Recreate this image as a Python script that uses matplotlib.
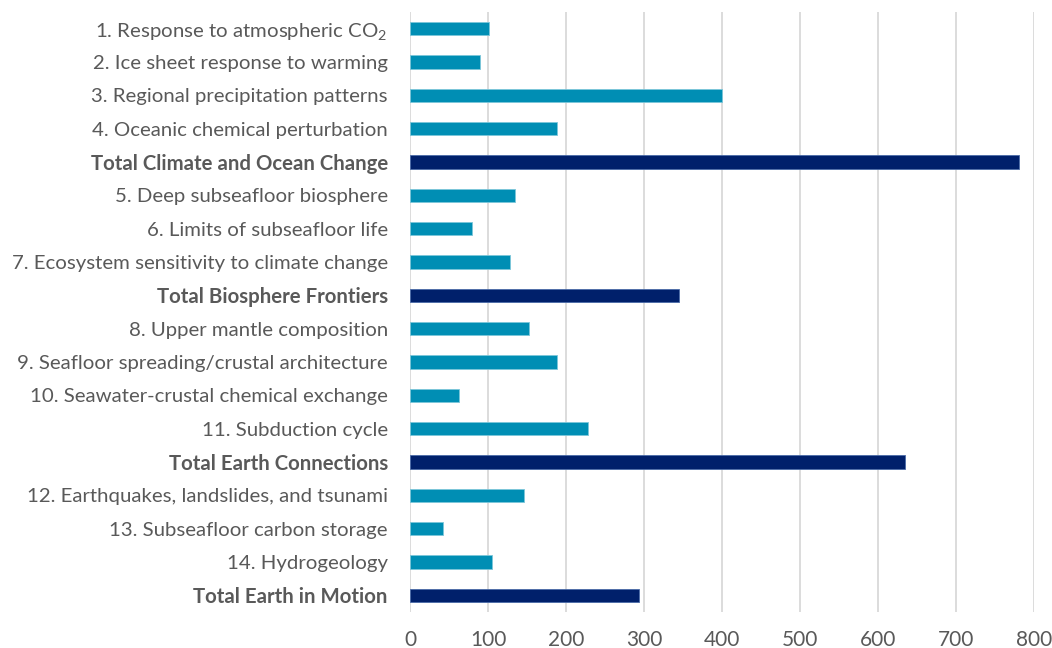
import matplotlib
matplotlib.use("Agg")
import matplotlib.pyplot as plt
import numpy as np

plt.rcParams['font.family'] = ['Lato', 'DejaVu Sans']
plt.rcParams['mathtext.fontset'] = 'custom'
plt.rcParams['mathtext.rm'] = 'Lato'
plt.rcParams['mathtext.it'] = 'Lato:italic'

labels = [
    "1. Response to atmospheric CO$_2$",
    "2. Ice sheet response to warming",
    "3. Regional precipitation patterns",
    "4. Oceanic chemical perturbation",
    "Total Climate and Ocean Change",
    "5. Deep subseafloor biosphere",
    "6. Limits of subseafloor life",
    "7. Ecosystem sensitivity to climate change",
    "Total Biosphere Frontiers",
    "8. Upper mantle composition",
    "9. Seafloor spreading/crustal architecture",
    "10. Seawater-crustal chemical exchange",
    "11. Subduction cycle",
    "Total Earth Connections",
    "12. Earthquakes, landslides, and tsunami",
    "13. Subseafloor carbon storage",
    "14. Hydrogeology",
    "Total Earth in Motion",
]
values = [101, 90, 400, 188, 781,
          135, 80, 128, 345,
          152, 188, 63, 228, 634,
          146, 42, 105, 294]
is_total = [lab.startswith("Total") for lab in labels]

light = "#008EB4"
dark = "#00206B"
colors = [dark if t else light for t in is_total]
edges = ["#4A6AA8" if t else "#7CC6DA" for t in is_total]

fig = plt.figure(figsize=(10.52, 6.48), dpi=100)
ax = fig.add_axes([410 / 1052, 1 - 612 / 648, (1034 - 410) / 1052, (612 - 12) / 648])

y = np.arange(len(labels))
ax.barh(y, values, height=0.4, color=colors, edgecolor=edges, linewidth=0.6, zorder=3)

ax.set_ylim(len(labels) - 0.5, -0.5)
ax.set_xlim(0, 800)
ax.set_xticks(np.arange(0, 801, 100))
ax.set_yticks(y)
ax.set_yticklabels(labels)
for lab, t in zip(ax.get_yticklabels(), is_total):
    if t:
        lab.set_fontweight('bold')

ax.tick_params(axis='y', length=0, pad=16, labelsize=14.7, labelcolor="#595959")
ax.tick_params(axis='x', length=0, pad=13, labelsize=15, labelcolor="#595959")

ax.grid(axis='x', color="#D9D9D9", linewidth=1.3, zorder=0)
for s in ax.spines.values():
    s.set_visible(False)

fig.savefig("out.png", dpi=100)
